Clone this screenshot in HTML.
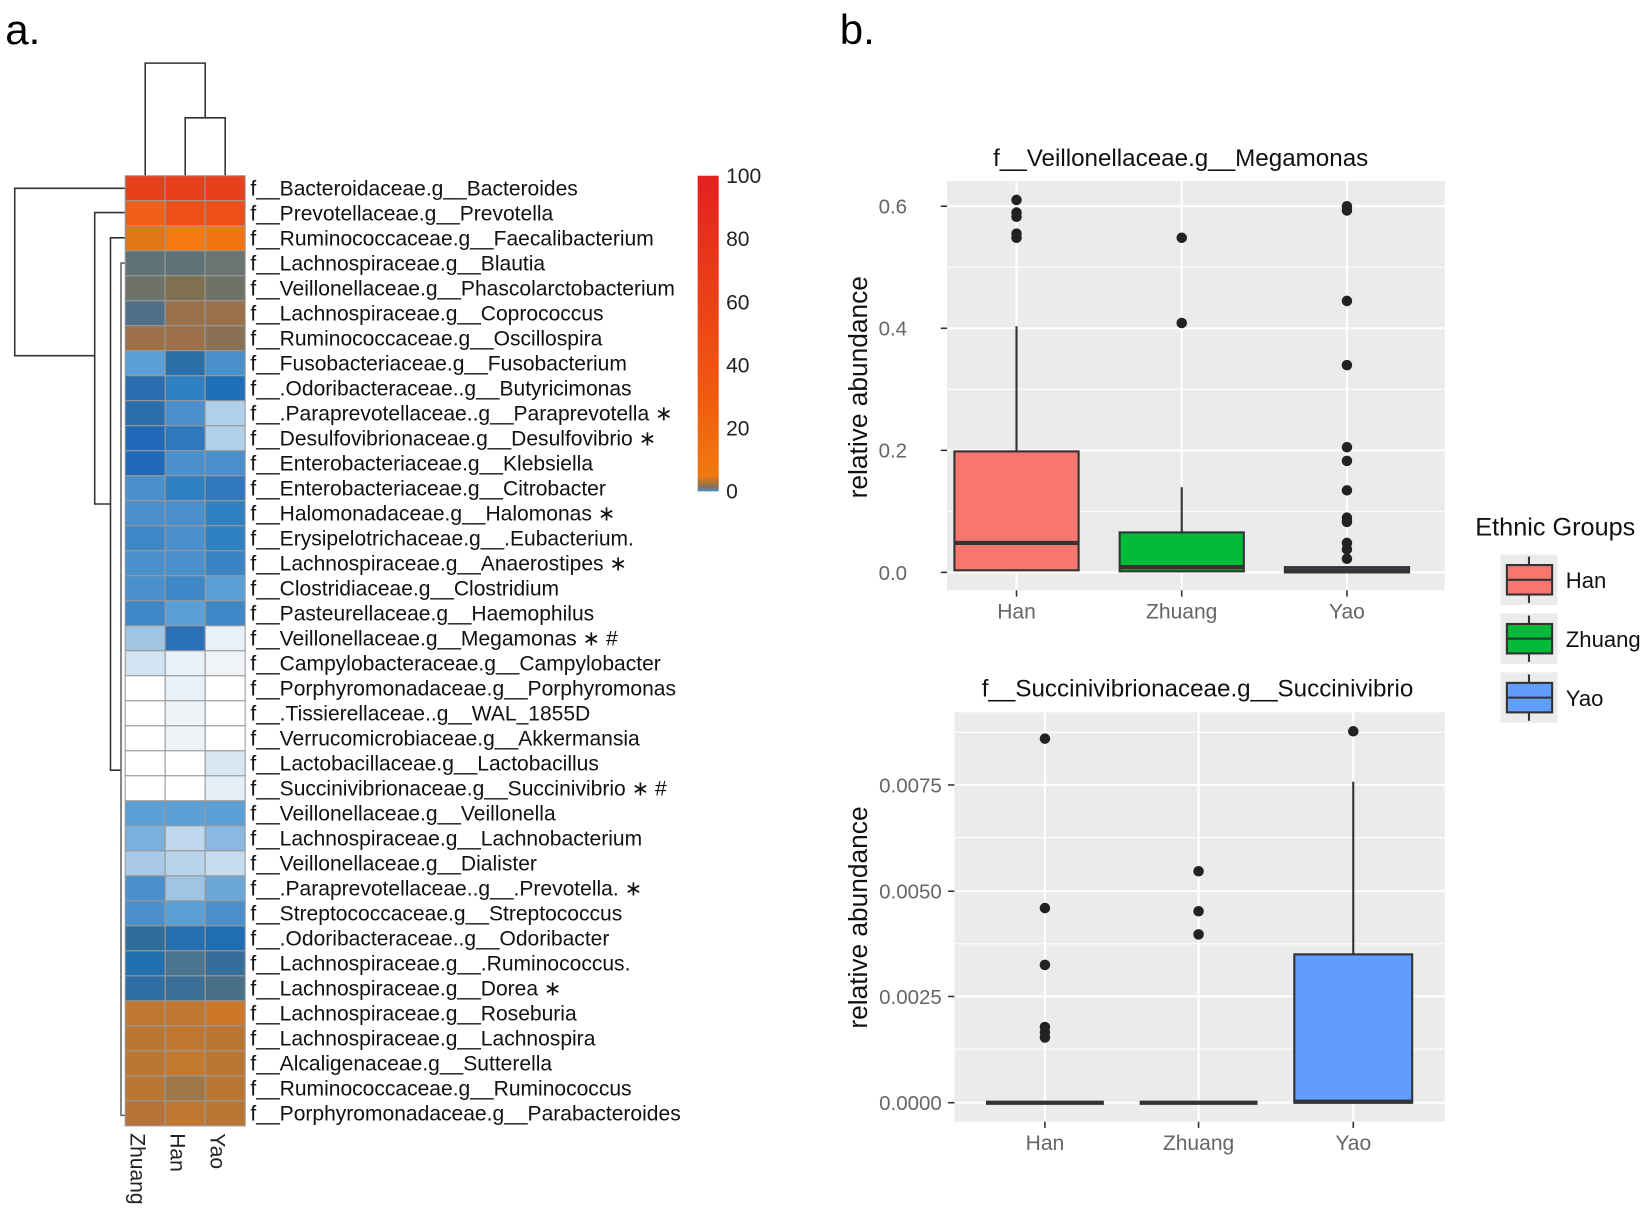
<!DOCTYPE html>
<html><head><meta charset="utf-8"><style>
html,body{margin:0;padding:0;background:#fff;}
svg{display:block;}
text{font-family:"Liberation Sans",sans-serif;}
</style></head><body>
<svg width="1650" height="1209" viewBox="0 0 1568 1149" preserveAspectRatio="none" xmlns="http://www.w3.org/2000/svg">
<text x="5" y="42" font-size="40">a.</text>
<text x="798" y="42" font-size="40">b.</text>

<g stroke="#333" stroke-width="1.5" fill="none">
<path d="M138 167V60H195V112"/>
<path d="M176 167V112H214V167"/>
<path d="M119 179H14V338H90"/>
<path d="M119 202H90V479H105"/>
<path d="M119 226H105V732H115"/>
<path d="M119 250H115V1060H119" stroke="#666"/>
</g>

<g id="hm" stroke="#999" stroke-width="1">
</g>

<defs><linearGradient id="cb" x1="0" y1="1" x2="0" y2="0">
<stop offset="0" stop-color="#4a90cc"/><stop offset="0.015" stop-color="#8a7055"/><stop offset="0.05" stop-color="#f07a10"/><stop offset="0.3" stop-color="#f05a10"/><stop offset="1" stop-color="#e52020"/></linearGradient></defs>
<rect x="663" y="167" width="20" height="300" fill="url(#cb)"/>
<g font-size="20" fill="#222">
<text x="690" y="174">100</text><text x="690" y="234">80</text><text x="690" y="294">60</text>
<text x="690" y="354">40</text><text x="690" y="414">20</text><text x="690" y="474">0</text>
</g>
<g font-size="20" fill="#222">
<text transform="translate(124,1077) rotate(90)">Zhuang</text>
<text transform="translate(162,1077) rotate(90)">Han</text>
<text transform="translate(200,1077) rotate(90)">Yao</text>
</g>
<g id="labels" font-size="20" fill="#111"></g>

<text x="1122" y="158" font-size="23" text-anchor="middle" fill="#111">f__Veillonellaceae.g__Megamonas</text>
<rect x="900" y="172" width="473" height="389" fill="#ebebeb"/>
<g stroke="#fff">
<line x1="900" x2="1373" y1="254" y2="254" stroke-width="1"/><line x1="900" x2="1373" y1="370" y2="370" stroke-width="1"/><line x1="900" x2="1373" y1="486" y2="486" stroke-width="1"/>
<line x1="900" x2="1373" y1="196" y2="196" stroke-width="2"/><line x1="900" x2="1373" y1="312" y2="312" stroke-width="2"/><line x1="900" x2="1373" y1="428" y2="428" stroke-width="2"/><line x1="900" x2="1373" y1="544" y2="544" stroke-width="2"/>
<line y1="172" y2="561" x1="966" x2="966" stroke-width="2"/><line y1="172" y2="561" x1="1123" x2="1123" stroke-width="2"/><line y1="172" y2="561" x1="1280" x2="1280" stroke-width="2"/>
</g>
<g font-size="19.5" fill="#666" text-anchor="end">
<text x="862" y="203">0.6</text><text x="862" y="319">0.4</text><text x="862" y="435">0.2</text><text x="862" y="551">0.0</text>
</g>
<g stroke="#333" stroke-width="1.5">
<line x1="894" x2="900" y1="196" y2="196"/><line x1="894" x2="900" y1="312" y2="312"/><line x1="894" x2="900" y1="428" y2="428"/><line x1="894" x2="900" y1="544" y2="544"/>
<line x1="966" x2="966" y1="561" y2="567"/><line x1="1123" x2="1123" y1="561" y2="567"/><line x1="1280" x2="1280" y1="561" y2="567"/>
</g>
<text transform="translate(824,368) rotate(-90)" font-size="25" text-anchor="middle" fill="#111">relative abundance</text>
<g font-size="20" fill="#666" text-anchor="middle"><text x="966" y="588">Han</text><text x="1123" y="588">Zhuang</text><text x="1280" y="588">Yao</text></g>
<g stroke="#333" stroke-width="2">
<line x1="966" x2="966" y1="310" y2="429"/>
<rect x="907" y="429" width="118" height="113" fill="#f8766d"/>
<line x1="907" x2="1025" y1="516" y2="516" stroke-width="4"/>
<line x1="1123" x2="1123" y1="463" y2="506"/>
<rect x="1064" y="506" width="118" height="37" fill="#00ba38"/>
<line x1="1064" x2="1182" y1="539" y2="539" stroke-width="4"/>
<rect x="1221" y="539" width="118" height="5" fill="#619cff"/>
<line x1="1221" x2="1339" y1="542" y2="542" stroke-width="4"/>
</g>
<g fill="#222">
<circle cx="966" cy="190" r="5"/><circle cx="966" cy="202" r="5"/><circle cx="966" cy="206" r="5"/><circle cx="966" cy="222" r="5"/><circle cx="966" cy="226" r="5"/>
<circle cx="1123" cy="226" r="5"/><circle cx="1123" cy="307" r="5"/>
<circle cx="1280" cy="196" r="5"/><circle cx="1280" cy="200" r="5"/><circle cx="1280" cy="286" r="5"/><circle cx="1280" cy="347" r="5"/><circle cx="1280" cy="425" r="5"/><circle cx="1280" cy="438" r="5"/><circle cx="1280" cy="466" r="5"/><circle cx="1280" cy="492" r="5"/><circle cx="1280" cy="496" r="5"/><circle cx="1280" cy="516" r="5"/><circle cx="1280" cy="522" r="5"/><circle cx="1280" cy="531" r="5"/>
</g>

<text x="1138" y="662" font-size="23" text-anchor="middle" fill="#111">f__Succinivibrionaceae.g__Succinivibrio</text>
<rect x="907" y="677" width="466" height="389" fill="#ebebeb"/>
<g stroke="#fff">
<line x1="907" x2="1373" y1="796" y2="796" stroke-width="1"/><line x1="907" x2="1373" y1="897" y2="897" stroke-width="1"/><line x1="907" x2="1373" y1="997" y2="997" stroke-width="1"/><line x1="907" x2="1373" y1="696" y2="696" stroke-width="1"/>
<line x1="907" x2="1373" y1="746" y2="746" stroke-width="2"/><line x1="907" x2="1373" y1="847" y2="847" stroke-width="2"/><line x1="907" x2="1373" y1="947" y2="947" stroke-width="2"/><line x1="907" x2="1373" y1="1048" y2="1048" stroke-width="2"/>
<line y1="677" y2="1066" x1="993" x2="993" stroke-width="2"/><line y1="677" y2="1066" x1="1139" x2="1139" stroke-width="2"/><line y1="677" y2="1066" x1="1286" x2="1286" stroke-width="2"/>
</g>
<g font-size="19.5" fill="#666" text-anchor="end">
<text x="895" y="753">0.0075</text><text x="895" y="854">0.0050</text><text x="895" y="954">0.0025</text><text x="895" y="1055">0.0000</text>
</g>
<g stroke="#333" stroke-width="1.5">
<line x1="901" x2="907" y1="746" y2="746"/><line x1="901" x2="907" y1="847" y2="847"/><line x1="901" x2="907" y1="947" y2="947"/><line x1="901" x2="907" y1="1048" y2="1048"/>
<line x1="993" x2="993" y1="1066" y2="1072"/><line x1="1139" x2="1139" y1="1066" y2="1072"/><line x1="1286" x2="1286" y1="1066" y2="1072"/>
</g>
<text transform="translate(824,872) rotate(-90)" font-size="25" text-anchor="middle" fill="#111">relative abundance</text>
<g font-size="20" fill="#666" text-anchor="middle"><text x="993" y="1093">Han</text><text x="1139" y="1093">Zhuang</text><text x="1286" y="1093">Yao</text></g>
<g stroke="#333" stroke-width="2">
<line x1="937" x2="1049" y1="1048" y2="1048" stroke-width="4"/>
<line x1="1083" x2="1195" y1="1048" y2="1048" stroke-width="4"/>
<line x1="1286" x2="1286" y1="743" y2="907"/>
<rect x="1230" y="907" width="112" height="141" fill="#619cff"/>
<line x1="1230" x2="1342" y1="1047" y2="1047" stroke-width="4"/>
</g>
<g fill="#222">
<circle cx="993" cy="702" r="5"/><circle cx="993" cy="863" r="5"/><circle cx="993" cy="917" r="5"/><circle cx="993" cy="976" r="5"/><circle cx="993" cy="981" r="5"/><circle cx="993" cy="986" r="5"/>
<circle cx="1139" cy="828" r="5"/><circle cx="1139" cy="866" r="5"/><circle cx="1139" cy="888" r="5"/>
<circle cx="1286" cy="695" r="5"/>
</g>

<text x="1402" y="509" font-size="24" fill="#111">Ethnic Groups</text>
<g stroke="#333" stroke-width="2">
<rect x="1426" y="527" width="54" height="48" fill="#ebebeb" stroke="none"/>
<line x1="1453" x2="1453" y1="529" y2="573"/><rect x="1432" y="537" width="43" height="28" fill="#f8766d"/><line x1="1432" x2="1475" y1="551" y2="551"/>
<rect x="1426" y="583" width="54" height="48" fill="#ebebeb" stroke="none"/>
<line x1="1453" x2="1453" y1="585" y2="629"/><rect x="1432" y="593" width="43" height="28" fill="#00ba38"/><line x1="1432" x2="1475" y1="607" y2="607"/>
<rect x="1426" y="639" width="54" height="48" fill="#ebebeb" stroke="none"/>
<line x1="1453" x2="1453" y1="641" y2="685"/><rect x="1432" y="649" width="43" height="28" fill="#619cff"/><line x1="1432" x2="1475" y1="663" y2="663"/>
</g>
<g font-size="21" fill="#111"><text x="1488" y="559">Han</text><text x="1488" y="615">Zhuang</text><text x="1488" y="671">Yao</text></g>
</svg>
<script>
var rows=[
["f__Bacteroidaceae.g__Bacteroides","#e8401c","#e8401c","#e8401c"],
["f__Prevotellaceae.g__Prevotella","#f06018","#ec5018","#ec5018"],
["f__Ruminococcaceae.g__Faecalibacterium","#e07818","#f47a10","#f27610"],
["f__Lachnospiraceae.g__Blautia","#5f7377","#5f7377","#6b7470"],
["f__Veillonellaceae.g__Phascolarctobacterium","#6e7268","#80704f","#6e7268"],
["f__Lachnospiraceae.g__Coprococcus","#4f7088","#9a7048","#9a7048"],
["f__Ruminococcaceae.g__Oscillospira","#9c7048","#9c7048","#8a7055"],
["f__Fusobacteriaceae.g__Fusobacterium","#5aa0d6","#2a70a8","#4a90cc"],
["f__.Odoribacteraceae..g__Butyricimonas","#2a6eb0","#3080c4","#1f6fb8"],
["f__.Paraprevotellaceae..g__Paraprevotella \u2217","#2a6eac","#4a90cc","#b0d0ea"],
["f__Desulfovibrionaceae.g__Desulfovibrio \u2217","#2068b8","#2f78c0","#b0d0ea"],
["f__Enterobacteriaceae.g__Klebsiella","#2068b8","#4a90cc","#4a90cc"],
["f__Enterobacteriaceae.g__Citrobacter","#4a90cc","#3080c4","#2f78c0"],
["f__Halomonadaceae.g__Halomonas \u2217","#4a90cc","#4a90cc","#3080c4"],
["f__Erysipelotrichaceae.g__.Eubacterium.","#3f88c8","#4a90cc","#3080c4"],
["f__Lachnospiraceae.g__Anaerostipes \u2217","#4a90cc","#4a90cc","#3a84c4"],
["f__Clostridiaceae.g__Clostridium","#4a90cc","#3f88c8","#5aa0d6"],
["f__Pasteurellaceae.g__Haemophilus","#3f88c8","#5aa0d6","#3f88c8"],
["f__Veillonellaceae.g__Megamonas \u2217 #","#a0c4e4","#2a70b8","#e8f0f8"],
["f__Campylobacteraceae.g__Campylobacter","#d2e4f2","#e8f0f8","#f0f4f8"],
["f__Porphyromonadaceae.g__Porphyromonas","#ffffff","#e8f0f8","#ffffff"],
["f__.Tissierellaceae..g__WAL_1855D","#ffffff","#eef3f8","#ffffff"],
["f__Verrucomicrobiaceae.g__Akkermansia","#ffffff","#eef3f8","#ffffff"],
["f__Lactobacillaceae.g__Lactobacillus","#ffffff","#ffffff","#d8e6f2"],
["f__Succinivibrionaceae.g__Succinivibrio \u2217 #","#ffffff","#ffffff","#e6eef8"],
["f__Veillonellaceae.g__Veillonella","#5aa0d6","#5aa0d6","#5aa0d6"],
["f__Lachnospiraceae.g__Lachnobacterium","#7ab0dc","#c0d8ee","#8ab8e0"],
["f__Veillonellaceae.g__Dialister","#a8c8e6","#b8d4ec","#c8dcef"],
["f__.Paraprevotellaceae..g__.Prevotella. \u2217","#4a90cc","#a0c4e4","#6aa8da"],
["f__Streptococcaceae.g__Streptococcus","#4a90cc","#5aa0d6","#4a90cc"],
["f__.Odoribacteraceae..g__Odoribacter","#2f6e9c","#2670b0","#1f6eb4"],
["f__Lachnospiraceae.g__.Ruminococcus.","#2270b0","#4a7490","#356e98"],
["f__Lachnospiraceae.g__Dorea \u2217","#2f6ea4","#3a7098","#4a7088"],
["f__Lachnospiraceae.g__Roseburia","#c07830","#c07830","#cc7828"],
["f__Lachnospiraceae.g__Lachnospira","#bc7634","#c07830","#bc7634"],
["f__Alcaligenaceae.g__Sutterella","#bc7634","#c47a2c","#bc7634"],
["f__Ruminococcaceae.g__Ruminococcus","#bc7634","#a07848","#bc7634"],
["f__Porphyromonadaceae.g__Parabacteroides","#b87438","#c07830","#bc7634"]];
var ns="http://www.w3.org/2000/svg",hm=document.getElementById("hm"),lb=document.getElementById("labels");
var h=(1070-167)/rows.length;
rows.forEach(function(r,i){
 for(var c=0;c<3;c++){var e=document.createElementNS(ns,"rect");
 e.setAttribute("x",119+c*38);e.setAttribute("y",167+i*h);e.setAttribute("width",38);e.setAttribute("height",h);e.setAttribute("fill",r[c+1]);hm.appendChild(e);}
 var t=document.createElementNS(ns,"text");t.setAttribute("x",238);t.setAttribute("y",167+i*h+h/2+7);t.textContent=r[0];lb.appendChild(t);
});
</script>
</body></html>
